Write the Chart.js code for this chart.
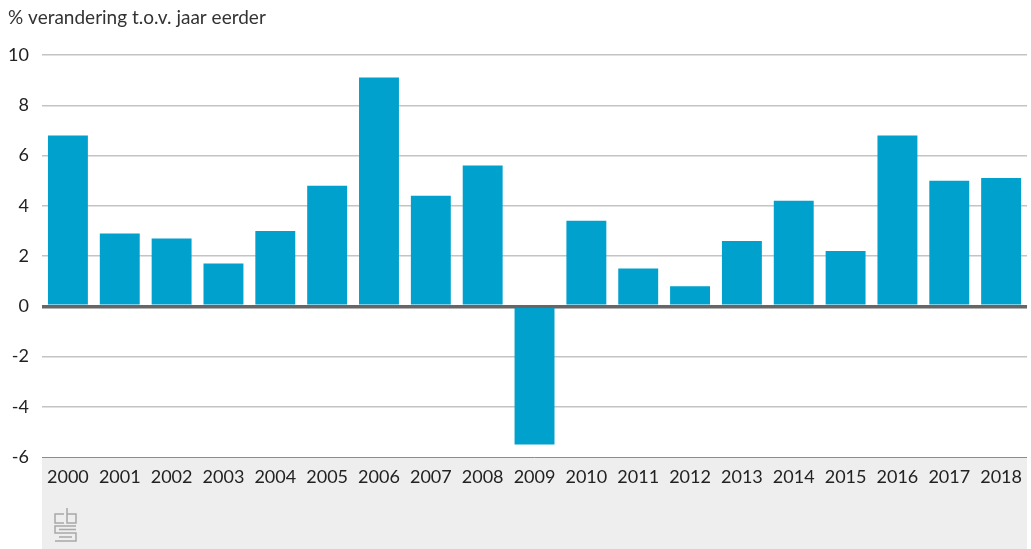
<!DOCTYPE html>
<html>
<head>
<meta charset="utf-8">
<script src="https://cdn.jsdelivr.net/npm/chart.js@4/dist/chart.umd.min.js"></script>
<style>
  html, body { margin: 0; padding: 0; background: #fff; }
  #wrap { width: 1031px; height: 549px; position: relative; }
</style>
</head>
<body>
<div id="wrap"><canvas id="groeiChart"></canvas></div>
<script>
// data
const jaren = ['2000', '2001', '2002', '2003', '2004', '2005', '2006', '2007', '2008', '2009',
    '2010', '2011', '2012', '2013', '2014', '2015', '2016', '2017', '2018'];
const verandering = [6.8, 2.9, 2.7, 1.7, 3.0, 4.8, 9.1, 4.4, 5.6, -5.5,
    3.4, 1.5, 0.8, 2.6, 4.2, 2.2, 6.8, 5.0, 5.1];
const yTicks = [10, 8, 6, 4, 2, 0, -2, -4, -6];
const titel = '% verandering t.o.v. jaar eerder';

const fontFam = 'Lato, "Open Sans", sans-serif';

// grey band under the chart + title + little cbs logo
const decorPlugin = {
    id: 'decor',
    beforeDraw(chart) {
        const c = chart.ctx;
        const a = chart.chartArea;
        c.save();
        c.fillStyle = '#eeeeee';
        c.fillRect(a.left, a.bottom, a.right - a.left, chart.height - a.bottom);
        c.restore();
    },
    afterDraw(chart) {
        const c = chart.ctx;
        c.save();
        c.fillStyle = '#333333';
        c.font = '19px ' + fontFam;
        c.textBaseline = 'middle';
        c.fillText(titel, 8, 18);

        // logo, rough
        c.strokeStyle = '#a8a8a8';
        c.lineWidth = 1.5;
        const x = 55, y = 508;
        c.beginPath();
        // c
        c.moveTo(x + 9, y + 6); c.lineTo(x, y + 6); c.lineTo(x, y + 15); c.lineTo(x + 9, y + 15);
        // b
        c.moveTo(x + 12, y); c.lineTo(x + 12, y + 15); c.lineTo(x + 21, y + 15);
        c.lineTo(x + 21, y + 6); c.lineTo(x + 12, y + 6);
        // s
        c.moveTo(x + 21, y + 18); c.lineTo(x, y + 18); c.lineTo(x, y + 25);
        c.lineTo(x + 21, y + 25); c.lineTo(x + 21, y + 33); c.lineTo(x, y + 33);
        c.moveTo(x + 4, y + 21.5); c.lineTo(x + 21, y + 21.5);
        c.moveTo(x + 4, y + 29); c.lineTo(x + 17, y + 29);
        c.stroke();
        c.restore();
    }
};

new Chart(document.getElementById('groeiChart'), {
    type: 'bar',
    data: {
        labels: jaren,
        datasets: [{
            data: verandering,
            backgroundColor: '#00a1cd',
            borderWidth: 0,
            categoryPercentage: 1,
            barPercentage: 0.77
        }]
    },
    options: {
        responsive: true,
        maintainAspectRatio: false,
        animation: false,
        layout: { padding: { top: 55, right: 0, left: 0, bottom: 0 } },
        plugins: {
            legend: { display: false },
            tooltip: { enabled: false }
        },
        scales: {
            x: {
                grid: { display: false, drawTicks: false },
                border: { display: false },
                ticks: {
                    color: '#222',
                    font: { family: fontFam, size: 18 },
                    padding: 9,
                    maxRotation: 0,
                    autoSkip: false
                },
                afterFit(scale) { scale.height = 92; }
            },
            y: {
                min: -6,
                max: 10,
                afterBuildTicks(scale) {
                    scale.ticks = yTicks.map(v => ({ value: v }));
                },
                grid: {
                    drawTicks: false,
                    color: ctx => ctx.tick.value === 0 ? '#666666' : (ctx.tick.value === -6 ? '#8c8c8c' : '#c4c4c4'),
                    lineWidth: ctx => ctx.tick.value === 0 ? 3.5 : (ctx.tick.value === -6 ? 1 : 1.5)
                },
                border: { display: false },
                ticks: {
                    color: '#222',
                    font: { family: fontFam, size: 18 },
                    padding: 13
                },
                afterFit(scale) { scale.width = 42; }
            }
        }
    },
    plugins: [decorPlugin]
});
</script>
</body>
</html>
